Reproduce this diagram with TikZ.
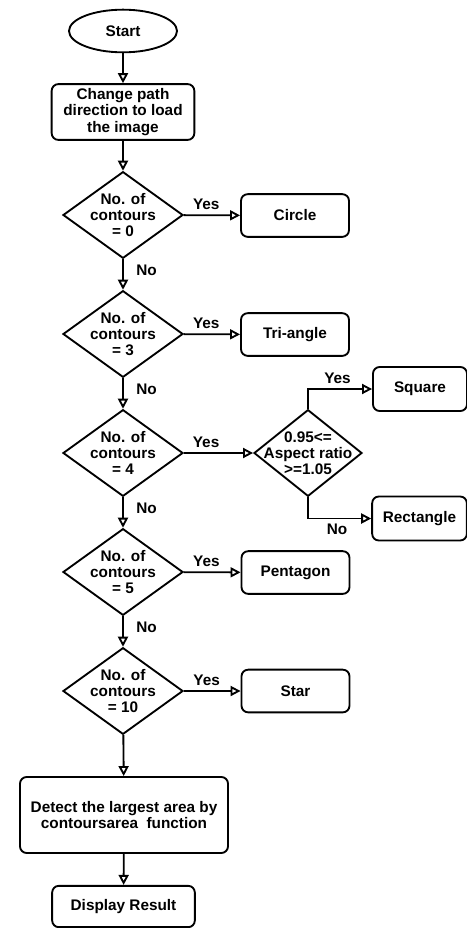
\documentclass[tikz,border=0pt]{standalone}
\usepackage{fontspec}
\setmainfont{Liberation Sans}
\usetikzlibrary{shapes.geometric,arrows.meta}

\begin{document}
\begin{tikzpicture}[x=0.75pt,y=-0.75pt,line width=1.4pt,
  every node/.style={font=\bfseries\fontsize{11.5}{12.2}\selectfont,align=center},
  term/.style={draw,ellipse,minimum width=81pt,minimum height=32pt},
  proc/.style={draw,rounded corners=5pt,minimum width=81pt,minimum height=32pt},
  decide/.style={draw,diamond,aspect=1.4,inner sep=-10pt,minimum width=90pt,minimum height=65pt},
  arr/.style={-{Triangle[open,length=7.5pt,width=7.5pt]}}]
\useasboundingbox (0,0) rectangle (467,928);
% main column
\node[term] (start) at (123,31) {Start};
\node[proc,minimum width=107pt,minimum height=41pt] (load) at (123,112) {Change path\\direction to load\\the image};
\node[decide] (c0) at (123,215) {No. of\\contours\\= 0};
\node[decide] (c3) at (123,334) {No. of\\contours\\= 3};
\node[decide] (c4) at (123,453) {No. of\\contours\\= 4};
\node[decide] (c5) at (123,572) {No. of\\contours\\= 5};
\node[decide] (c10) at (123,691) {No. of\\contours\\= 10};
\node[proc,minimum width=156pt,minimum height=57pt] (area) at (124,815) {Detect the largest area by\\contoursarea\ \ function};
\node[proc,minimum width=107pt,minimum height=31pt] (result) at (123.5,906.5) {Display Result};
% shapes
\node[proc] (circ) at (295,215.5) {Circle};
\node[proc] (tri) at (295,334.5) {Tri-angle};
\node[decide,minimum width=81pt] (ratio) at (308,453) {0.95<=\\Aspect ratio\\>=1.05};
\node[proc,minimum width=70.5pt,minimum height=33pt] (sq) at (420,389) {Square};
\node[proc,minimum width=71pt,minimum height=33pt] (rect) at (419.5,518.5) {Rectangle};
\node[proc] (penta) at (295.5,572.5) {Pentagon};
\node[proc] (star) at (295.5,691) {Star};
% arrows
\draw[arr] (start) -- (load);
\draw[arr] (load) -- (c0);
\draw[arr] (c0) -- node[pos=0.4,above]{Yes} (circ);
\draw[arr] (c0) -- node[pos=0.35,right=6pt]{No} (c3);
\draw[arr] (c3) -- node[pos=0.4,above]{Yes} (tri);
\draw[arr] (c3) -- node[pos=0.35,right=6pt]{No} (c4);
\draw[arr] (c4) -- node[pos=0.32,above]{Yes} (ratio);
\draw[arr] (ratio.north) |- node[pos=0.73,above]{Yes} (sq);
\draw[arr] (ratio.south) |- node[pos=0.73,below]{No} (rect);
\draw[arr] (c4) -- node[pos=0.35,right=6pt]{No} (c5);
\draw[arr] (c5) -- node[pos=0.4,above]{Yes} (penta);
\draw[arr] (c5) -- node[pos=0.35,right=6pt]{No} (c10);
\draw[arr] (c10) -- node[pos=0.4,above]{Yes} (star);
\draw[arr] (c10) -- (area);
\draw[arr] (area) -- (result);
\end{tikzpicture}
\end{document}
